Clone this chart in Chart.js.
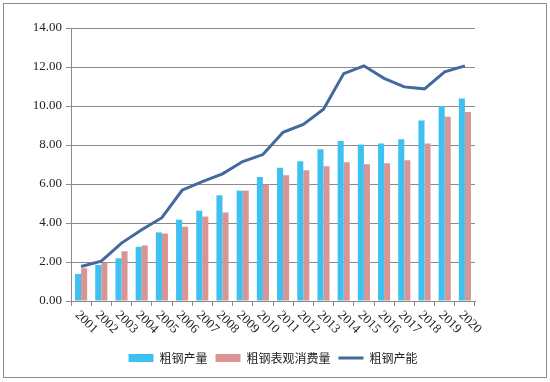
<!DOCTYPE html>
<html>
<head>
<meta charset="utf-8">
<script src="https://cdn.jsdelivr.net/npm/chart.js@4/dist/chart.umd.min.js"></script>
<style>
html,body{margin:0;padding:0;background:#fff;}
#wrap{width:550px;height:382px;position:relative;}
</style>
</head>
<body>
<div id="wrap"><canvas id="c" width="550" height="382"></canvas></div>
<script>
const years = ['2001','2002','2003','2004','2005','2006','2007','2008','2009','2010','2011','2012','2013','2014','2015','2016','2017','2018','2019','2020'];
const production = [1.39,1.85,2.19,2.78,3.52,4.17,4.63,5.42,5.66,6.36,6.83,7.17,7.78,8.20,8.03,8.08,8.30,9.26,10.00,10.38];
const consumption = [1.68,1.97,2.55,2.85,3.46,3.81,4.33,4.54,5.66,5.97,6.45,6.71,6.91,7.12,7.01,7.07,7.22,8.08,9.45,9.69];
const capacity = [1.77,2.04,2.97,3.65,4.27,5.68,6.12,6.52,7.15,7.51,8.65,9.06,9.83,11.66,12.06,11.42,10.98,10.88,11.75,12.06];
const seriesNames = ['粗钢产量','粗钢表观消费量','粗钢产能'];

const tickFont = {family:'"Liberation Serif", "DejaVu Serif", serif', size:13};
const gridColor = '#8a8a8a';

const frame = {
  id:'frame',
  beforeDraw(chart){
    const ctx = chart.ctx;
    ctx.save();
    ctx.fillStyle = '#fff';
    ctx.fillRect(0,0,chart.width,chart.height);
    ctx.strokeStyle = '#8c8c8c';
    ctx.lineWidth = 1;
    ctx.strokeRect(3.5,3.5,543,374);
    ctx.restore();
  }
};

const xLabels = {
  id:'xLabels',
  afterDraw(chart){
    const ctx = chart.ctx;
    const xs = chart.scales.x;
    const top = chart.chartArea.bottom;
    ctx.save();
    ctx.fillStyle = '#222';
    ctx.font = '13px "Liberation Serif", "DejaVu Serif", serif';
    ctx.textAlign = 'left';
    ctx.textBaseline = 'middle';
    years.forEach((y,i)=>{
      const px = xs.getPixelForValue(i);
      ctx.save();
      ctx.translate(px-4, top+12);
      ctx.rotate(Math.PI/4);
      ctx.fillText(y,0,0);
      ctx.restore();
    });
    ctx.restore();
  }
};

new Chart(document.getElementById('c'),{
  type:'bar',
  data:{
    labels: years,
    datasets:[
      {type:'line',label:seriesNames[2],data:capacity,borderColor:'#44699f',backgroundColor:'#44699f',borderWidth:3,pointRadius:0,tension:0,order:0,pointStyle:'line'},
      {label:seriesNames[0],data:production,backgroundColor:'#3ec1f0',borderWidth:0,order:1,categoryPercentage:0.6,barPercentage:1,pointStyle:'rect'},
      {label:seriesNames[1],data:consumption,backgroundColor:'#d99593',borderWidth:0,order:2,categoryPercentage:0.6,barPercentage:1,pointStyle:'rect'}
    ]
  },
  options:{
    responsive:false,
    animation:false,
    layout:{padding:{left:0,right:75,top:28,bottom:8}},
    plugins:{
      legend:{
        position:'bottom',
        fullSize:false,
        labels:{
          usePointStyle:true,
          pointStyleWidth:25,
          boxWidth:25,
          boxHeight:8,
          padding:8,
          color:'#222',
          font:{family:'"Noto Sans CJK SC", sans-serif',size:12},
          sort:(a,b)=>[1,2,0].indexOf(a.datasetIndex)-[1,2,0].indexOf(b.datasetIndex)
        }
      },
      tooltip:{enabled:false}
    },
    scales:{
      x:{
        grid:{display:true,drawOnChartArea:false,drawTicks:true,tickLength:5,color:gridColor,offset:true},
        border:{display:true,color:gridColor},
        ticks:{display:false},
        afterFit(s){ s.height = 43; }
      },
      y:{
        min:0,max:14,
        grid:{color:gridColor,tickLength:5,drawTicks:true},
        border:{display:true,color:gridColor},
        ticks:{stepSize:2,color:'#222',font:tickFont,padding:4,callback:v=>v.toFixed(2)},
        afterFit(s){ s.width = 71; }
      }
    }
  },
  plugins:[frame,xLabels]
});
</script>
</body>
</html>
